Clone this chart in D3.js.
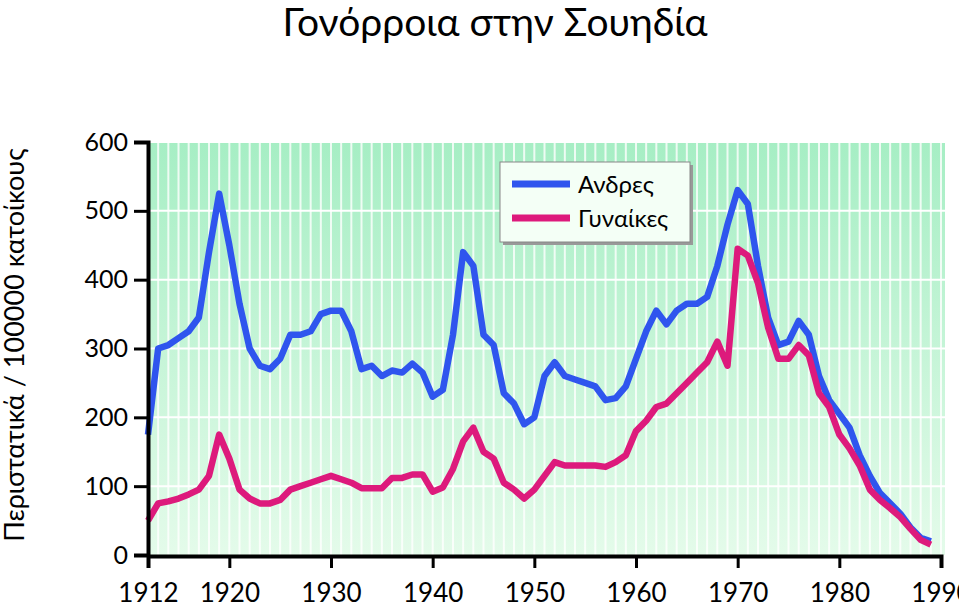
<!DOCTYPE html>
<html><head><meta charset="utf-8">
<script src="https://cdn.jsdelivr.net/npm/d3@7"></script>
<style>body{margin:0;background:#fff}text{font-family:Lato,"Liberation Sans",sans-serif}</style>
</head><body><div class="chart"></div>
<script>
var years = d3.range(1912, 1990);
var men = [175,300,305,315,325,345,440,525,450,365,300,275,270,285,320,320,325,350,355,355,325,270,275,260,268,265,278,265,230,240,320,440,420,320,305,235,220,190,200,260,280,260,255,250,245,225,228,245,285,325,355,335,355,365,365,375,420,480,530,510,420,345,305,310,340,320,260,225,205,185,145,115,90,75,60,40,25,20];
var women = [50,75,78,82,88,95,115,175,140,95,82,75,75,80,95,100,105,110,115,110,105,97,97,97,112,112,117,117,92,98,125,165,185,150,140,105,95,82,95,115,135,130,130,130,130,128,135,145,180,195,215,220,235,250,265,280,310,275,445,435,395,330,285,285,305,290,235,215,175,155,130,95,80,68,55,38,22,15];
var xTicks = [1912,1920,1930,1940,1950,1960,1970,1980,1990];
var yTicks = [0,100,200,300,400,500,600];
var seriesNames = ['Ανδρες','Γυναίκες'];
var colors = ['#2f55ee','#dd1a7c'];

var width = 959, height = 615;
var svg = d3.select('.chart').append('svg').attr('width', width).attr('height', height);

var x = d3.scaleLinear().domain([1912, 1990]).range([148, 941]);
var y = d3.scaleLinear().domain([0, 600]).range([555, 142]);

var defs = svg.append('defs');
var grad = defs.append('linearGradient').attr('id','bg').attr('x1',0).attr('y1',0).attr('x2',0).attr('y2',1);
grad.append('stop').attr('offset','0%').attr('stop-color','#a6eec4');
grad.append('stop').attr('offset','100%').attr('stop-color','#e4fbea');

svg.append('rect').attr('x',148).attr('y',142).attr('width',797).attr('height',413).attr('fill','url(#bg)');

// yearly stripes
svg.selectAll('.vg').data(d3.range(1913, 1991)).enter().append('line')
  .attr('x1', function(d){return x(d);}).attr('x2', function(d){return x(d);})
  .attr('y1',142).attr('y2',555).attr('stroke','#fff').attr('stroke-width',2).attr('opacity',0.8);
svg.selectAll('.hg').data(yTicks.slice(1)).enter().append('line')
  .attr('x1',148).attr('x2',945).attr('y1', function(d){return y(d);}).attr('y2', function(d){return y(d);})
  .attr('stroke','#fff').attr('stroke-width',2);

var line = d3.line().x(function(d,i){return x(years[i]);}).y(function(d){return y(d);});
[men, women].forEach(function(s, k){
  svg.append('path').datum(s).attr('d', line).attr('fill','none')
    .attr('stroke', colors[k]).attr('stroke-width',6.5).attr('stroke-linejoin','round');
});

// axes
var yAxis = svg.append('g').attr('transform','translate(148,0)')
  .call(d3.axisLeft(y).tickValues(yTicks).tickSize(14).tickPadding(6));
var xAxis = svg.append('g').attr('transform','translate(0,556)')
  .call(d3.axisBottom(x).tickValues(xTicks).tickFormat(d3.format('d')).tickSize(12).tickPadding(16));
[yAxis, xAxis].forEach(function(g){
  g.select('.domain').attr('stroke','#000').attr('stroke-width',4);
  g.selectAll('.tick line').attr('stroke','#000').attr('stroke-width',3);
  g.selectAll('text').attr('font-size',25).attr('fill','#000')
    .style('font-family','Lato,"Liberation Sans",sans-serif');
});
xAxis.selectAll('text').attr('font-size',26);

svg.append('text').attr('x',495).attr('y',36).attr('text-anchor','middle')
  .attr('font-size',39).text('Γονόρροια στην Σουηδία');
svg.append('text').attr('transform','translate(24,345) rotate(-90)').attr('text-anchor','middle')
  .attr('font-size',27).text('Περιστατικά / 100000 κατοίκους');

// legend
var lg = svg.append('g').attr('transform','translate(500,162)');
lg.append('rect').attr('x',3).attr('y',3).attr('width',190).attr('height',80).attr('fill','#999');
lg.append('rect').attr('width',190).attr('height',80).attr('fill','#f4fff6').attr('stroke','#888');
seriesNames.forEach(function(n,k){
  lg.append('line').attr('x1',12).attr('x2',70).attr('y1',22+k*34).attr('y2',22+k*34)
    .attr('stroke',colors[k]).attr('stroke-width',7);
  lg.append('text').attr('x',78).attr('y',31+k*34).attr('font-size',24).text(n);
});
</script></body></html>
